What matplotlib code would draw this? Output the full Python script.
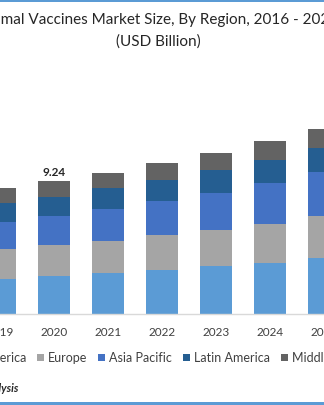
import matplotlib
matplotlib.use("Agg")
import matplotlib.pyplot as plt
from matplotlib.patches import Rectangle, Patch
import numpy as np

years = [2019, 2020, 2021, 2022, 2023, 2024, 2025]
north_america = [2.43, 2.64, 2.83, 3.06, 3.34, 3.56, 3.89]
europe = [2.08, 2.13, 2.24, 2.40, 2.50, 2.71, 2.90]
asia_pacific = [1.90, 2.06, 2.22, 2.40, 2.57, 2.83, 3.08]
latin_america = [1.32, 1.32, 1.44, 1.46, 1.58, 1.62, 1.69]
mea = [1.00, 1.09, 1.08, 1.20, 1.22, 1.28, 1.32]
series_names = ["North America", "Europe", "Asia Pacific", "Latin America", "Middle East & Africa"]
colors = ["#5B9BD5", "#A5A5A5", "#4472C4", "#255E91", "#636363"]
labelled = {2020: "9.24"}

plt.rcParams['font.family'] = ['Lato', 'DejaVu Sans']

W, H = 324, 405
fig = plt.figure(figsize=(W / 100, H / 100), dpi=100)
fig.patch.set_facecolor("white")

px_per_year = 54.4
x0 = 2020 - 53 / px_per_year
x1 = x0 + W / px_per_year
px_per_unit = 14.39
base_px = 314
top_px = 100
ax = fig.add_axes([0, (H - base_px) / H, 1, (base_px - top_px) / H])
ax.set_xlim(x0, x1)
ax.set_ylim(0, (base_px - top_px) / px_per_unit)

data = [north_america, europe, asia_pacific, latin_america, mea]
bottom = np.zeros(len(years))
for vals, name, c in zip(data, series_names, colors):
    ax.bar(years, vals, width=0.59, bottom=bottom, color=c, label=name, linewidth=0)
    bottom += np.array(vals)

for y, tot in zip(years, bottom):
    if y in labelled:
        ax.annotate(labelled[y], (y, tot), xytext=(0, 2.5), textcoords="offset points",
                    ha="center", va="bottom", fontsize=8.5, fontweight="bold", color="#262626")

for s in ["left", "right", "top"]:
    ax.spines[s].set_visible(False)
ax.spines["bottom"].set_color("#D9D9D9")
ax.spines["bottom"].set_linewidth(1.0)
ax.set_yticks([])
ax.set_xticks(years)
ax.set_xticklabels([str(y) for y in years], fontsize=8.5, color="#404040")
ax.tick_params(axis="x", length=0, pad=9)
ax.set_facecolor("none")

# title
fig.text(158 / W, 1 - 20 / H, "Animal Vaccines Market Size, By Region, 2016 - 2025",
         ha="center", va="center", fontsize=11, color="#262626")
fig.text(158 / W, 1 - 42 / H, "(USD Billion)", ha="center", va="center",
         fontsize=11, color="#262626")

handles = [Patch(facecolor=c, edgecolor="none") for c in colors]
leg_y = 1 - 358 / H
leg = fig.legend(handles, series_names, ncol=5, loc="center", bbox_to_anchor=(0.5, leg_y),
                 frameon=False, fontsize=9, handlelength=0.55, handleheight=0.55,
                 handletextpad=0.35, columnspacing=0.85, labelcolor="#404040")

# align the "Europe" marker with its position in the reference (left edge ~37 px)
fig.canvas.draw()
r = fig.canvas.get_renderer()
ext = leg.legend_handles[1].get_window_extent(r)
shift = 37 - ext.x0
leg.set_bbox_to_anchor((0.5 + shift / W, leg_y), transform=fig.transFigure)

fig.text(18 / W, 1 - 389 / H, "Source: Grand View Research Analysis", ha="right", va="center",
         fontsize=8, fontweight="bold", fontstyle="italic", color="#262626")

fig.add_artist(Rectangle((0, 1 - 2 / H), 1, 2 / H, transform=fig.transFigure,
                         facecolor="#5B9BD5", edgecolor="none"))
fig.add_artist(Rectangle((0, 0), 1, 3 / H, transform=fig.transFigure,
                         facecolor="#5B9BD5", edgecolor="none"))

fig.savefig("out.png", dpi=100)
